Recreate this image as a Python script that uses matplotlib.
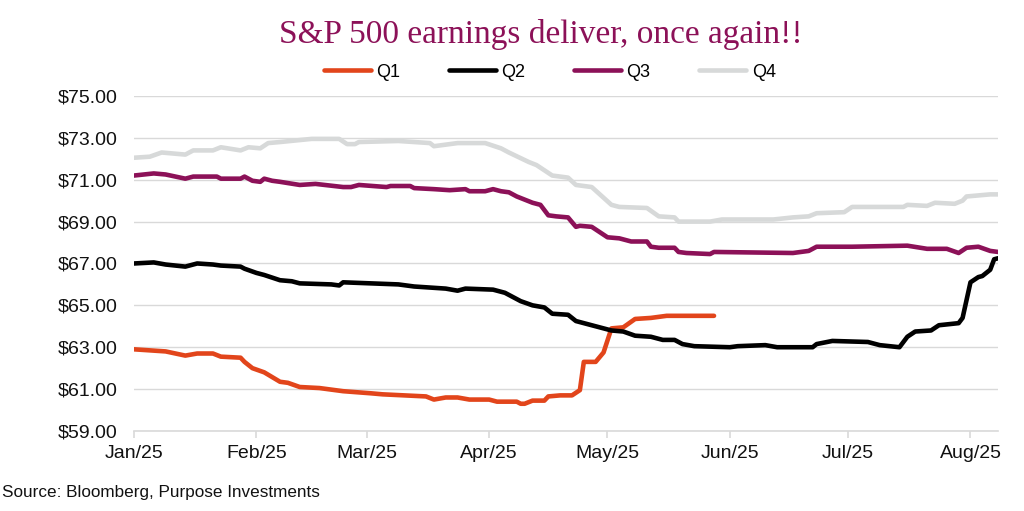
import matplotlib
matplotlib.use("Agg")
import matplotlib.pyplot as plt
import matplotlib.dates as mdates
import pandas as pd

# consensus EPS estimates by quarter
q1_dates = ["01-01", "01-05", "01-09", "01-14", "01-17", "01-21", "01-23", "01-28", "01-29", "01-31",
            "02-03", "02-07", "02-09", "02-12", "02-17", "02-23", "03-02", "03-05", "03-16", "03-18",
            "03-21", "03-24", "03-27", "04-01", "04-03", "04-08", "04-09", "04-10", "04-12", "04-15",
            "04-16", "04-19", "04-22", "04-24", "04-25", "04-28", "04-30", "05-02", "05-05", "05-08",
            "05-12", "05-16", "05-28"]
q1_vals = [62.9, 62.85, 62.8, 62.6, 62.7, 62.7, 62.55, 62.5, 62.3, 62.0,
           61.8, 61.35, 61.3, 61.1, 61.05, 60.9, 60.8, 60.75, 60.65, 60.5,
           60.6, 60.6, 60.5, 60.5, 60.4, 60.4, 60.3, 60.3, 60.45, 60.45,
           60.65, 60.7, 60.7, 60.95, 62.3, 62.3, 62.75, 63.9, 63.95, 64.35,
           64.4, 64.5, 64.5]

q2_dates = ["01-01", "01-06", "01-09", "01-14", "01-17", "01-21", "01-23", "01-28", "01-29", "02-01",
            "02-03", "02-07", "02-10", "02-12", "02-20", "02-22", "02-23", "03-02", "03-09", "03-13",
            "03-21", "03-24", "03-26", "04-02", "04-05", "04-09", "04-12", "04-15", "04-17", "04-21",
            "04-23", "04-26", "04-28", "05-02", "05-05", "05-08", "05-12", "05-15", "05-18", "05-20",
            "05-23", "06-01", "06-03", "06-10", "06-13", "06-22", "06-23", "06-27", "07-06", "07-09",
            "07-14", "07-16", "07-18", "07-22", "07-24", "07-29", "07-30", "08-01", "08-03", "08-04",
            "08-06", "08-07", "08-08"]
q2_vals = [67.0, 67.05, 66.95, 66.85, 67.0, 66.95, 66.9, 66.85, 66.75, 66.55,
           66.45, 66.2, 66.15, 66.05, 66.0, 65.95, 66.1, 66.05, 66.0, 65.9,
           65.8, 65.7, 65.8, 65.75, 65.6, 65.2, 65.0, 64.9, 64.6, 64.55,
           64.25, 64.1, 64.0, 63.8, 63.75, 63.55, 63.5, 63.35, 63.35, 63.15,
           63.05, 63.0, 63.05, 63.1, 63.0, 63.0, 63.15, 63.3, 63.25, 63.1,
           63.0, 63.5, 63.75, 63.8, 64.05, 64.15, 64.4, 66.1, 66.35, 66.4,
           66.7, 67.2, 67.25]

q3_dates = ["01-01", "01-06", "01-09", "01-14", "01-16", "01-22", "01-23", "01-28", "01-29", "01-31",
            "02-02", "02-03", "02-05", "02-07", "02-12", "02-16", "02-23", "02-25", "02-27", "03-06",
            "03-07", "03-12", "03-13", "03-18", "03-22", "03-26", "03-27", "03-31", "04-02", "04-04",
            "04-06", "04-08", "04-12", "04-14", "04-16", "04-18", "04-21", "04-23", "04-24", "04-27",
            "05-01", "05-04", "05-07", "05-11", "05-12", "05-14", "05-18", "05-19", "05-21", "05-27",
            "05-28", "06-17", "06-21", "06-23", "07-02", "07-16", "07-21", "07-26", "07-29", "07-31",
            "08-03", "08-06", "08-08"]
q3_vals = [71.2, 71.3, 71.25, 71.05, 71.15, 71.15, 71.05, 71.05, 71.15, 70.95,
           70.9, 71.05, 70.95, 70.9, 70.75, 70.8, 70.65, 70.65, 70.75, 70.65,
           70.7, 70.7, 70.6, 70.55, 70.5, 70.55, 70.45, 70.45, 70.55, 70.45,
           70.4, 70.2, 69.9, 69.8, 69.3, 69.25, 69.2, 68.75, 68.8, 68.75,
           68.25, 68.2, 68.05, 68.05, 67.8, 67.75, 67.75, 67.55, 67.5, 67.45,
           67.55, 67.5, 67.6, 67.8, 67.8, 67.85, 67.7, 67.7, 67.5, 67.75,
           67.8, 67.6, 67.55]

q4_dates = ["01-01", "01-05", "01-08", "01-14", "01-16", "01-21", "01-23", "01-28", "01-30", "02-02",
            "02-04", "02-07", "02-15", "02-22", "02-24", "02-26", "02-27", "03-09", "03-17", "03-18",
            "03-24", "03-31", "04-04", "04-06", "04-11", "04-13", "04-17", "04-21", "04-23", "04-27",
            "05-02", "05-04", "05-11", "05-14", "05-18", "05-19", "05-27", "05-30", "06-12", "06-17",
            "06-21", "06-23", "06-30", "07-02", "07-15", "07-16", "07-21", "07-23", "07-28", "07-30",
            "07-31", "08-06", "08-08"]
q4_vals = [72.05, 72.1, 72.3, 72.2, 72.4, 72.4, 72.55, 72.4, 72.55, 72.5,
           72.75, 72.8, 72.95, 72.95, 72.7, 72.7, 72.8, 72.85, 72.75, 72.6,
           72.75, 72.75, 72.5, 72.3, 71.85, 71.7, 71.2, 71.1, 70.75, 70.65,
           69.8, 69.7, 69.65, 69.25, 69.2, 69.0, 69.0, 69.1, 69.1, 69.2,
           69.25, 69.4, 69.45, 69.7, 69.7, 69.8, 69.75, 69.9, 69.85, 70.0,
           70.2, 70.3, 70.3]

series = [
    ("Q1", q1_dates, q1_vals, "#E2451B"),
    ("Q2", q2_dates, q2_vals, "#000000"),
    ("Q3", q3_dates, q3_vals, "#8C1158"),
    ("Q4", q4_dates, q4_vals, "#D7D9D9"),
]

plt.rcParams['font.family'] = ['Liberation Sans', 'DejaVu Sans']

fig = plt.figure(figsize=(10.24, 5.11), dpi=100)
ax = fig.add_axes([0.1309, 0.1566, 0.8438, 0.6556])

for name, d, v, c in series:
    x = pd.to_datetime(["2025-" + s for s in d])
    ax.plot(x, v, color=c, lw=3.3, label=name, solid_capstyle='round', solid_joinstyle='round')

ax.set_ylim(59, 75)
ax.set_yticks(range(59, 76, 2))
ax.yaxis.set_major_formatter(matplotlib.ticker.FuncFormatter(lambda v, p: "${:.2f}".format(v)))
ax.set_xlim(pd.Timestamp("2025-01-01"), pd.Timestamp("2025-08-08"))
ax.xaxis.set_major_locator(mdates.MonthLocator())
ax.xaxis.set_major_formatter(mdates.DateFormatter("%b/%y"))

ax.grid(axis='y', color='#D9D9D9', lw=1)
ax.set_axisbelow(True)
for s in ['top', 'right', 'left']:
    ax.spines[s].set_visible(False)
ax.spines['bottom'].set_color('#D9D9D9')
ax.spines['bottom'].set_linewidth(1.2)
ax.tick_params(axis='x', colors='#D9D9D9', labelcolor='#111111', length=5, width=1.2,
               pad=5, labelsize=14)
ax.tick_params(axis='y', length=0, pad=12, labelsize=14, labelcolor='#111111')

fig.text(0.528, 0.933, "S&P 500 earnings deliver, once again!!", ha='center', va='center',
         fontsize=24, color='#8C1158', family=['Liberation Serif', 'DejaVu Serif'])

fig.legend(loc='center', bbox_to_anchor=(0.537, 0.859), ncol=4, frameon=False,
           fontsize=13, handlelength=2.6, handletextpad=0.3, columnspacing=2.7)

fig.text(0.002, 0.037, "Source: Bloomberg, Purpose Investments", ha='left', va='center',
         fontsize=12.3, color='#111111')

fig.savefig("out.png", dpi=100)
